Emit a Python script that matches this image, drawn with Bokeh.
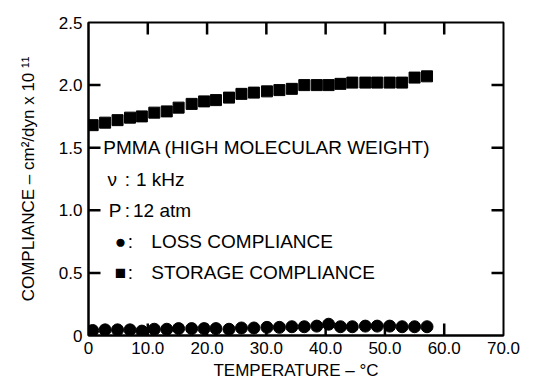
from bokeh.plotting import figure
from bokeh.models import Range1d, FixedTicker, Label
from bokeh.embed import file_html
from bokeh.resources import INLINE

# temperature (°C)
temperature = [0.7, 2.8, 4.9, 7.0, 9.0, 11.1, 13.2, 15.2, 17.4, 19.5, 21.5, 23.7, 25.8, 27.9,
               30.1, 32.2, 34.3, 36.4, 38.5, 40.5, 42.5, 44.5, 46.7, 48.7, 50.8, 52.9, 55.0, 57.1]
# storage compliance (cm^2/dyn x 10^11)
storage = [1.68, 1.70, 1.72, 1.74, 1.75, 1.78, 1.79, 1.82, 1.85, 1.87, 1.88, 1.90, 1.93, 1.94,
           1.95, 1.96, 1.97, 2.00, 2.00, 2.00, 2.01, 2.02, 2.02, 2.02, 2.02, 2.02, 2.06, 2.07]
# loss compliance
loss = [0.040, 0.045, 0.045, 0.045, 0.035, 0.050, 0.050, 0.055, 0.055, 0.055, 0.055, 0.050, 0.060, 0.060,
        0.065, 0.065, 0.070, 0.070, 0.075, 0.090, 0.070, 0.070, 0.075, 0.075, 0.075, 0.070, 0.070, 0.070]

x_ticks = [0, 10, 20, 30, 40, 50, 60, 70]
x_tick_labels = ["0", "10.0", "20.0", "30.0", "40.0", "50.0", "60.0", "70.0"]
y_ticks = [0, 0.5, 1.0, 1.5, 2.0, 2.5]
y_tick_labels = ["0", "0.5", "1.0", "1.5", "2.0", "2.5"]

FONT = "Liberation Sans"

xmin, xmax = x_ticks[0], x_ticks[-1]
ymin, ymax = y_ticks[0], y_ticks[-1]

p = figure(width=545, height=385, output_backend="svg", toolbar_location=None,
           x_range=Range1d(xmin, xmax), y_range=Range1d(ymin, ymax),
           min_border_left=88, min_border_right=42, min_border_top=22, min_border_bottom=50)
p.grid.visible = False
p.outline_line_color = "black"
p.outline_line_width = 2
p.background_fill_color = "white"
p.border_fill_color = "white"


def style_axis(ax, ticks, labels):
    ax.ticker = FixedTicker(ticks=ticks)
    ax.axis_line_color = "black"
    ax.axis_line_width = 2
    ax.major_tick_line_color = None
    ax.major_tick_in = 0
    ax.major_tick_out = 0
    ax.minor_tick_line_color = None
    ax.major_label_overrides = {t: l for t, l in zip(ticks, labels)}
    ax.major_label_text_font = FONT
    ax.major_label_text_font_size = "17px"
    ax.major_label_text_color = "black"
    ax.axis_label_text_font = FONT
    ax.axis_label_text_font_size = "17px"
    ax.axis_label_text_font_style = "normal"
    ax.axis_label_text_color = "black"


style_axis(p.xaxis[0], x_ticks, x_tick_labels)
p.xaxis[0].major_label_standoff = 6
p.xaxis[0].axis_label = "TEMPERATURE \u2013 \u00b0C"
p.xaxis[0].axis_label_standoff = 4

style_axis(p.yaxis[0], y_ticks, y_tick_labels)
p.yaxis[0].major_label_standoff = 6
p.yaxis[0].axis_label = "COMPLIANCE \u2013 cm\u00b2/dyn x 10 \u00b9\u00b9"
p.yaxis[0].axis_label_standoff = 18

# inward tick marks on all four sides of the frame (about 12 px long)
tx = (xmax - xmin) * 12 / 415.0
ty = (ymax - ymin) * 12 / 313.0
inner_x = x_ticks[1:-1]
inner_y = y_ticks[1:-1]
n_x, n_y = len(inner_x), len(inner_y)
tick_style = dict(line_color="black", line_width=2.5)
p.segment(x0=inner_x, y0=[ymax] * n_x, x1=inner_x, y1=[ymax - ty] * n_x, **tick_style)
p.segment(x0=inner_x, y0=[ymin] * n_x, x1=inner_x, y1=[ymin + ty] * n_x, **tick_style)
p.segment(x0=[xmin] * n_y, y0=inner_y, x1=[xmin + tx] * n_y, y1=inner_y, **tick_style)
p.segment(x0=[xmax] * n_y, y0=inner_y, x1=[xmax - tx] * n_y, y1=inner_y, **tick_style)

p.scatter(temperature, storage, marker="square", size=11, color="black")
p.scatter(temperature, loss, marker="circle", size=12, color="black")

legend_rows = [
    (2.5, 1.5, "left", "PMMA (HIGH MOLECULAR WEIGHT)"),
    (3.2, 1.25, "left", "\u03bd"),
    (6.1, 1.25, "left", ":"),
    (8.0, 1.25, "left", "1 kHz"),
    (3.4, 1.0, "left", "P"),
    (6.1, 1.0, "left", ":"),
    (7.5, 1.0, "left", "12 atm"),
    (5.4, 0.75, "center", "\u25cf"),
    (6.6, 0.75, "left", ":"),
    (10.6, 0.75, "left", "LOSS COMPLIANCE"),
    (5.4, 0.5, "center", "\u25a0"),
    (6.6, 0.5, "left", ":"),
    (10.6, 0.5, "left", "STORAGE COMPLIANCE"),
]
for x, y, align, txt in legend_rows:
    p.add_layout(Label(x=x, y=y, text=txt, text_align=align, text_baseline="middle",
                       text_font=FONT, text_font_size="19px", text_color="black"))

open("out.html", "w").write(file_html(p, INLINE))
